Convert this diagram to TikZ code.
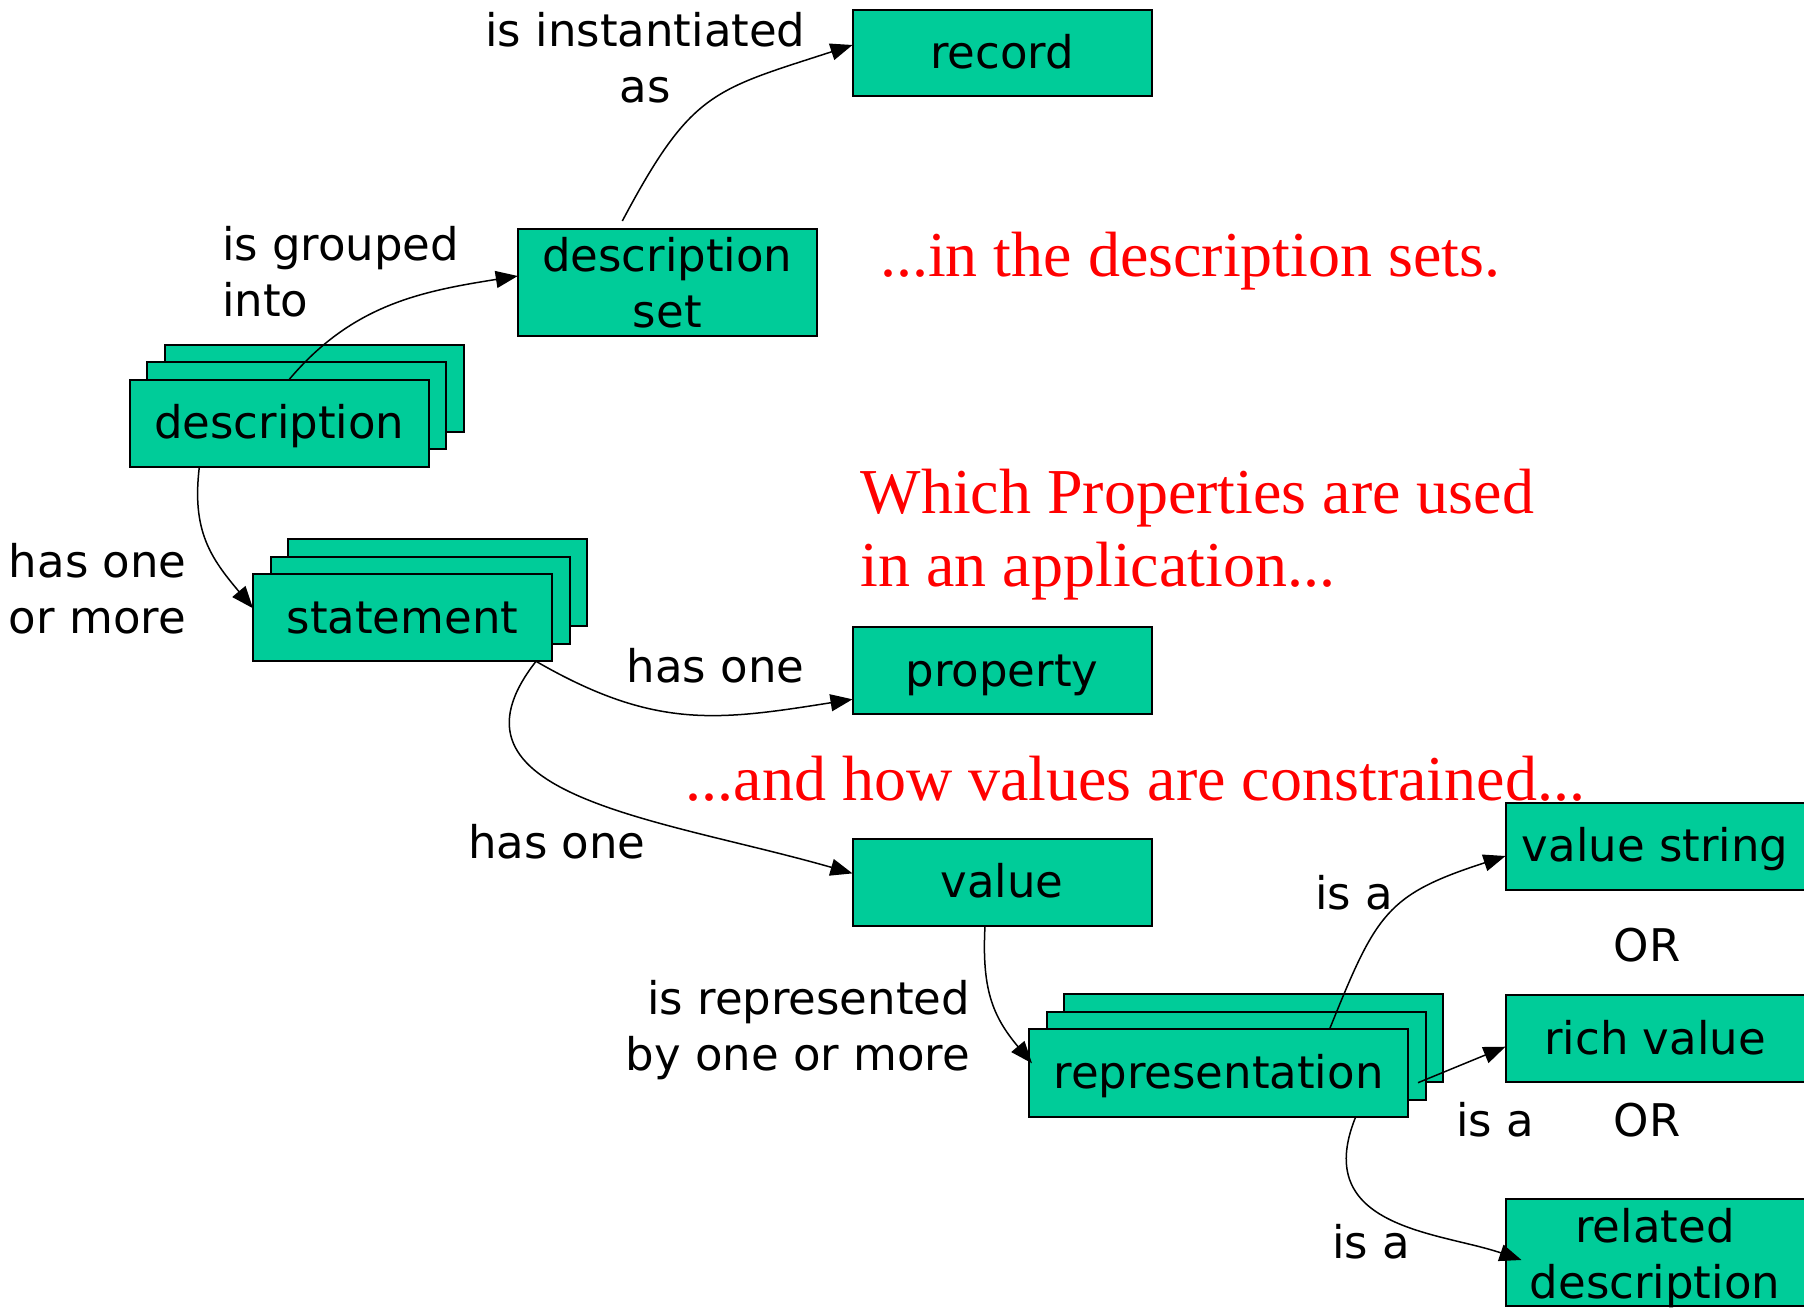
\documentclass[tikz,border=0pt]{standalone}
\usepackage{fontspec}
\setmainfont{DejaVu Sans}
\newfontfamily\redfont{Liberation Serif}
\usetikzlibrary{arrows.meta,calc}
\definecolor{boxgreen}{HTML}{00CC99}
\definecolor{redtext}{HTML}{FF0000}
\begin{document}
\begin{tikzpicture}[x=1pt,y=1pt,
  every node/.style={inner sep=0pt, outer sep=0pt},
  boxbase/.style={draw=black, line width=2pt, fill=boxgreen, minimum width=299pt, minimum height=87pt, font=\fontsize{45}{56}\selectfont},
  box/.style={boxbase, text height=31pt, text depth=0pt},
  conn/.style={line width=1.5pt, -{Triangle[length=22pt,width=17pt]}},
  lbl/.style={font=\fontsize{45}{56}\selectfont},
  redtxt/.style={text=redtext, font=\redfont\fontsize{64}{73}\selectfont}
]
\useasboundingbox (0,0) rectangle (1804,-1308);
\fill[white] (0,0) rectangle (1804,-1308);

% boxes
\node[box, minimum height=86pt] (record) at (1002,-53.5) {record};
\node[boxbase, align=center, minimum height=107pt] (descset) at (667.3,-282.5) {description\\set};

\node[box] (descC) at (314.35,-388.4) {};
\node[box] (descB) at (296.85,-405.9) {};
\node[box] (desc) at (279.35,-423.4) {description};

\node[box] (stmtC) at (437.5,-582.8) {};
\node[box] (stmtB) at (420,-600.3) {};
\node[box] (stmt) at (402.5,-617.8) {statement};

\node[box] (prop) at (1002,-670.8) {property};
\node[box] (value) at (1002,-882.4) {value};

\node[box, minimum width=379pt, minimum height=88pt] (reprC) at (1253.5,-1038.3) {};
\node[box, minimum width=379pt, minimum height=88pt] (reprB) at (1236,-1055.8) {};
\node[box, minimum width=379pt, minimum height=88pt] (repr) at (1218.5,-1073.3) {representation};

\node[box] (valstr) at (1655,-846.3) {value string};
\node[box] (richval) at (1655,-1038.7) {rich value};
\node[boxbase, align=center, minimum height=107pt, text height=90.6pt, text depth=0pt] (reldesc) at (1655,-1252.7) {related\\description};

% labels (base anchor = baseline of the last line)
\node[lbl, align=center, anchor=base] (l1) at (645.5,-103) {is instantiated\\as};
\node[lbl, align=left, anchor=base west] (l2) at (222,-316.7) {is grouped\\into};
\node[lbl, align=left, anchor=base west] (l3) at (9,-633.3) {has one\\or more};
\node[lbl, anchor=base west] (l4) at (626.7,-682.7) {has one};
\node[lbl, anchor=base west] (l5) at (468,-858.3) {has one};
\node[lbl, align=right, anchor=base east] (l6) at (970,-1070) {is represented\\by one or more};
\node[lbl, anchor=base west] (l7) at (1315,-909.3) {is a};
\node[lbl, anchor=base] (or1) at (1647,-961.7) {OR};
\node[lbl, anchor=base west] (l8) at (1456.4,-1136) {is a};
\node[lbl, anchor=base] (or2) at (1647,-1136) {OR};
\node[lbl, anchor=base west] (l9) at (1332.4,-1258.3) {is a};

% red texts
\node[redtxt, anchor=base west] (r1) at (880,-276) {...in the description sets.};
\node[redtxt, align=left, anchor=base west] (r2) at (860.7,-586.7) {Which Properties are used\\in an application...};
\node[redtxt, anchor=base west] (r3) at (685.7,-800) {...and how values are constrained...};

% connectors
\draw[conn] ($(descset.north)+(-45,8)$) to[out=62,in=198,looseness=1.3] ($(record.west)+(0,8.5)$);
\draw[conn] ($(desc.north)+(9.5,0)$) to[out=50,in=189] ($(descset.west)+(0,6.5)$);
\draw[conn] ($(desc.south)+(-80,0)$) to[out=-97,in=130,looseness=1.1] ($(stmt.west)+(0,9.5)$);
\draw[conn] ($(stmt.south east)+(-16,0)$) to[out=-30,in=189,looseness=1.1] ($(prop.west)+(0,-28.5)$);
\draw[conn] ($(stmt.south east)+(-16,0)$) to[out=-128,in=164,out looseness=1.15,in looseness=1.35] ($(value.west)+(0,9)$);
\draw[conn] ($(value.south)+(-17,0)$) to[out=-93,in=130,looseness=1.1] ($(repr.west)+(3,10)$);
\draw[conn] ($(repr.north)+(111,0)$) to[out=68,in=198,looseness=1.3] ($(valstr.west)+(0,-9.7)$);
\draw[conn] ($(repr.east)+(10,-9.4)$) -- ($(richval.west)+(0,-8)$);
\draw[conn] ($(repr.south)+(137,0)$) to[out=-112,in=161,out looseness=1.4] ($(reldesc.west)+(16,-7.3)$);
\end{tikzpicture}
\end{document}
